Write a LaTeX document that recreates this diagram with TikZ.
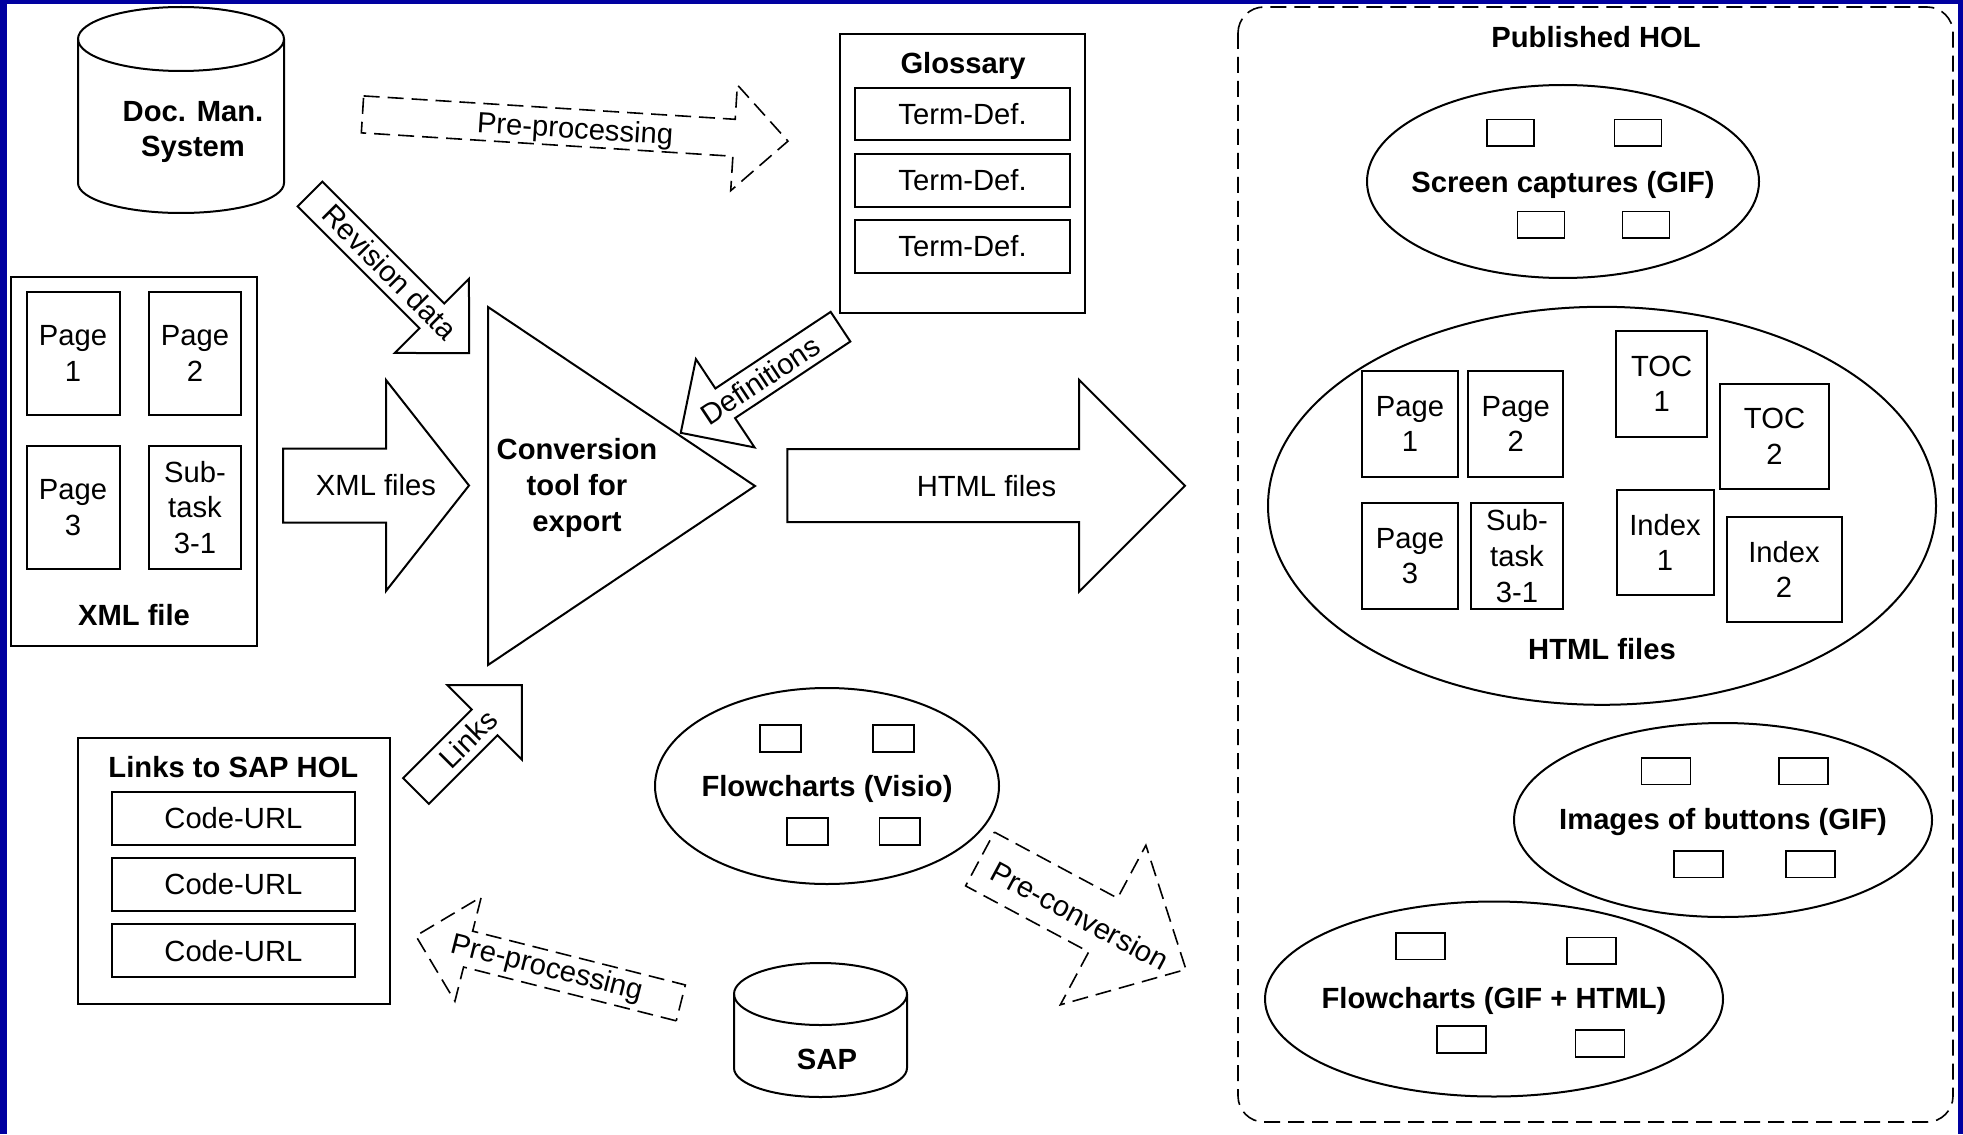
\documentclass[tikz,border=0pt]{standalone}
\usepackage{fontspec}
\setmainfont{Liberation Sans}
\usetikzlibrary{shapes.geometric}
\usetikzlibrary{positioning}

\definecolor{slideblue}{RGB}{0,0,160}
\newcommand{\diagfont}{\fontsize{14.6}{17.8}\selectfont}

% block arrow: [options]{tail}{angle}{length}{shaft half width}{head half width}{head length}
\newcommand{\blockarrow}[7][]{%
  \begin{scope}[shift={#2},rotate=#3]
    \draw[line width=1pt,fill=white,#1] (0,-#5) -- ({#4-#7},-#5) -- ({#4-#7},-#6) -- (#4,0)
      -- ({#4-#7},#6) -- ({#4-#7},#5) -- (0,#5) -- cycle;
  \end{scope}}

\tikzset{
  frame/.style={draw,line width=1pt,fill=white,inner sep=0pt},
  leaf/.style={draw,line width=1pt,fill=white,align=center,inner sep=0pt},
  thumb/.style={draw,line width=0.8pt,inner sep=0pt,minimum width=24.5pt,minimum height=13.3pt},
  blob/.style={draw,ellipse,line width=1pt,inner sep=0pt},
  title/.style={font=\diagfont\bfseries,align=center},
  dashedarrow/.style={dash pattern=on 8pt off 4pt,line width=0.8pt},
}

\begin{document}
\begin{tikzpicture}[x=0.5pt,y=-0.5pt,font=\diagfont]

  \useasboundingbox (0,0) rectangle (1963,1134);
  \fill[slideblue] (0,0) rectangle (1963,1134);
  \fill[white] (7,4) rectangle (1958,1134);

  % Doc. Man. System
  \draw[line width=1pt,fill=white] (78,39) -- (78,183) arc[start angle=180,end angle=0,x radius=103,y radius=30] -- (284,39);
  \draw[line width=1pt] (181,39) ellipse [x radius=103,y radius=32];
  \node[title] (docman) at (193,132) {Doc. Man.\\System};

  % XML file
  \node[frame,minimum width=123pt,minimum height=184.5pt] (xmlbox) at (134,461.5) {};
  \node[leaf,minimum width=46.5pt,minimum height=61.5pt] (xpage1) at (73,353.4) {Page\\1};
  \node[leaf,minimum width=46pt,minimum height=61.5pt] (xpage2) at (195,353.4) {Page\\2};
  \node[leaf,minimum width=46.5pt,minimum height=61.5pt] (xpage3) at (73,507.4) {Page\\3};
  \node[leaf,minimum width=46pt,minimum height=61.5pt] (xsub) at (195,507.4) {Sub-\\task\\3-1};
  \node[title] (xmllab) at (134,615) {XML file};

  % Glossary
  \node[frame,minimum width=122.5pt,minimum height=139.5pt] (glossary) at (962.5,173.5) {};
  \node[title] (glosslab) at (963,65.5) {Glossary};
  \foreach \y/\n in {114/1,180.5/2,246.5/3}
    \node[leaf,minimum width=107.5pt,minimum height=26.3pt] (term\n) at (962.5,\y) {Term-Def.};

  % Links to SAP HOL
  \node[frame,minimum width=156pt,minimum height=132.8pt] (linkbox) at (233.75,871.15) {};
  \node[title] (linklab) at (233.4,767.3) {Links to SAP HOL};
  \foreach \y/\n in {818.3/1,884.3/2,950.6/3}
    \node[leaf,minimum width=121.8pt,minimum height=26.7pt] (code\n) at (233.4,\y) {Code-URL};

  % Conversion tool
  \draw[line width=1pt,fill=white] (488,307) -- (755,486) -- (488,665) -- cycle;
  \node[title] (tool) at (577,488) {Conversion\\tool for\\export};

  % Flowcharts (Visio)
  \node[blob,minimum width=172pt,minimum height=98pt] (visio) at (827,786) {};
  \node[title,yshift=-1.5pt] (visiolab) at (visio.center) {Flowcharts (Visio)};
  \node[thumb,minimum width=20.4pt] (v1) at (780.5,738.4) {};
  \node[thumb,minimum width=20.4pt] (v2) at (893.5,738.4) {};
  \node[thumb,minimum width=20.4pt] (v3) at (807.5,831.5) {};
  \node[thumb,minimum width=20.4pt] (v4) at (899.7,831.5) {};

  % SAP
  \draw[line width=1pt,fill=white] (734,994) -- (734,1068) arc[start angle=180,end angle=0,x radius=86.5,y radius=29] -- (907,994);
  \draw[line width=1pt] (820.5,994) ellipse [x radius=86.5,y radius=31];
  \node[title] (sap) at (827,1059) {SAP};

  % block arrows
  \blockarrow{(310,194)}{-45}{225}{17.5}{52.5}{52.7}
  \node[rotate=-45] (revlab) at (390,272) {Revision data};
  \blockarrow[dashedarrow]{(362.5,114.4)}{-3.6}{426.3}{18.5}{53}{54}
  \node[rotate=-3.6] (prelab) at (575,131) {Pre-processing};
  \blockarrow{(840.5,326.7)}{213.6}{191.8}{17.8}{53}{53.4}
  \node[rotate=33.6] (deflab) at (760,380) {Definitions};
  \blockarrow{(416,791)}{45}{149.7}{18.2}{52.7}{52.7}
  \node[rotate=45] (linkslab) at (468,739) {Links};
  \blockarrow[dashedarrow]{(680.8,1002.9)}{165.8}{273.3}{18.5}{53.8}{53.9}
  \node[rotate=-14.2] (pre2lab) at (547,969) {Pre-processing};
  \blockarrow[dashedarrow]{(980,859)}{-28.2}{233.7}{30.5}{90.5}{94}
  \node[rotate=-28.2] (convlab) at (1080,916) {Pre-conversion};
  \blockarrow{(283,485.5)}{0}{186}{37}{105.5}{83}
  \node (xmlflab) at (376,485) {XML files};
  \blockarrow{(787.3,485.7)}{0}{397.7}{36.5}{106}{106}
  \node (htmlflab) at (986.5,486) {HTML files};

  % Published HOL
  \draw[dash pattern=on 8pt off 4pt,line width=0.8pt,rounded corners=13pt] (1238,7) rectangle (1953,1122);
  \node[title] (hol) at (1596,37.5) {Published HOL};

  \node[blob,minimum width=196pt,minimum height=96.5pt] (screens) at (1563,181.5) {};
  \node[title,yshift=-1.5pt] (screenlab) at (screens.center) {Screen captures (GIF)};
  \node[thumb,minimum width=23.5pt] (s1) at (1510.4,132.8) {};
  \node[thumb,minimum width=23.5pt] (s2) at (1638,132.8) {};
  \node[thumb,minimum width=23.5pt] (s3) at (1541,224.8) {};
  \node[thumb,minimum width=23.5pt] (s4) at (1646,224.8) {};

  \node[blob,minimum width=334pt,minimum height=199pt] (html) at (1602,505.8) {};
  \node[title] (htmllab) at (1602,649.5) {HTML files};
  \node[leaf,minimum width=48pt,minimum height=53pt] (hpage1) at (1410,424) {Page\\1};
  \node[leaf,minimum width=47.75pt,minimum height=53pt] (hpage2) at (1515.7,424) {Page\\2};
  \node[leaf,minimum width=48pt,minimum height=53pt] (hpage3) at (1410,556) {Page\\3};
  \node[leaf,minimum width=46.25pt,minimum height=53pt] (hsub) at (1517,556) {Sub-\\task\\3-1};
  \node[leaf,minimum width=45.25pt,minimum height=53pt] (toc1) at (1661.7,384) {TOC\\1};
  \node[leaf,minimum width=54.5pt,minimum height=52.5pt] (toc2) at (1774.5,436.5) {TOC\\2};
  \node[leaf,minimum width=48.5pt,minimum height=52.5pt] (index1) at (1665,542.5) {Index\\1};
  \node[leaf,minimum width=57.5pt,minimum height=52.5pt] (index2) at (1784,569.5) {Index\\2};

  \node[blob,minimum width=209pt,minimum height=97pt] (buttons) at (1723,820) {};
  \node[title,yshift=-0.8pt] (buttonlab) at (buttons.center) {Images of buttons (GIF)};
  \node[thumb] (b1) at (1666,771.3) {};
  \node[thumb] (b2) at (1803.4,771.3) {};
  \node[thumb] (b3) at (1698.2,864.2) {};
  \node[thumb] (b4) at (1810.7,864.2) {};

  \node[blob,minimum width=229pt,minimum height=97.5pt] (flowgif) at (1494,999) {};
  \node[title,yshift=-0.8pt] (flowgiflab) at (flowgif.center) {Flowcharts (GIF + HTML)};
  \node[thumb] (f1) at (1420.2,946) {};
  \node[thumb] (f2) at (1591.5,950.7) {};
  \node[thumb] (f3) at (1461.2,1039.4) {};
  \node[thumb] (f4) at (1600,1043.4) {};

\end{tikzpicture}
\end{document}
